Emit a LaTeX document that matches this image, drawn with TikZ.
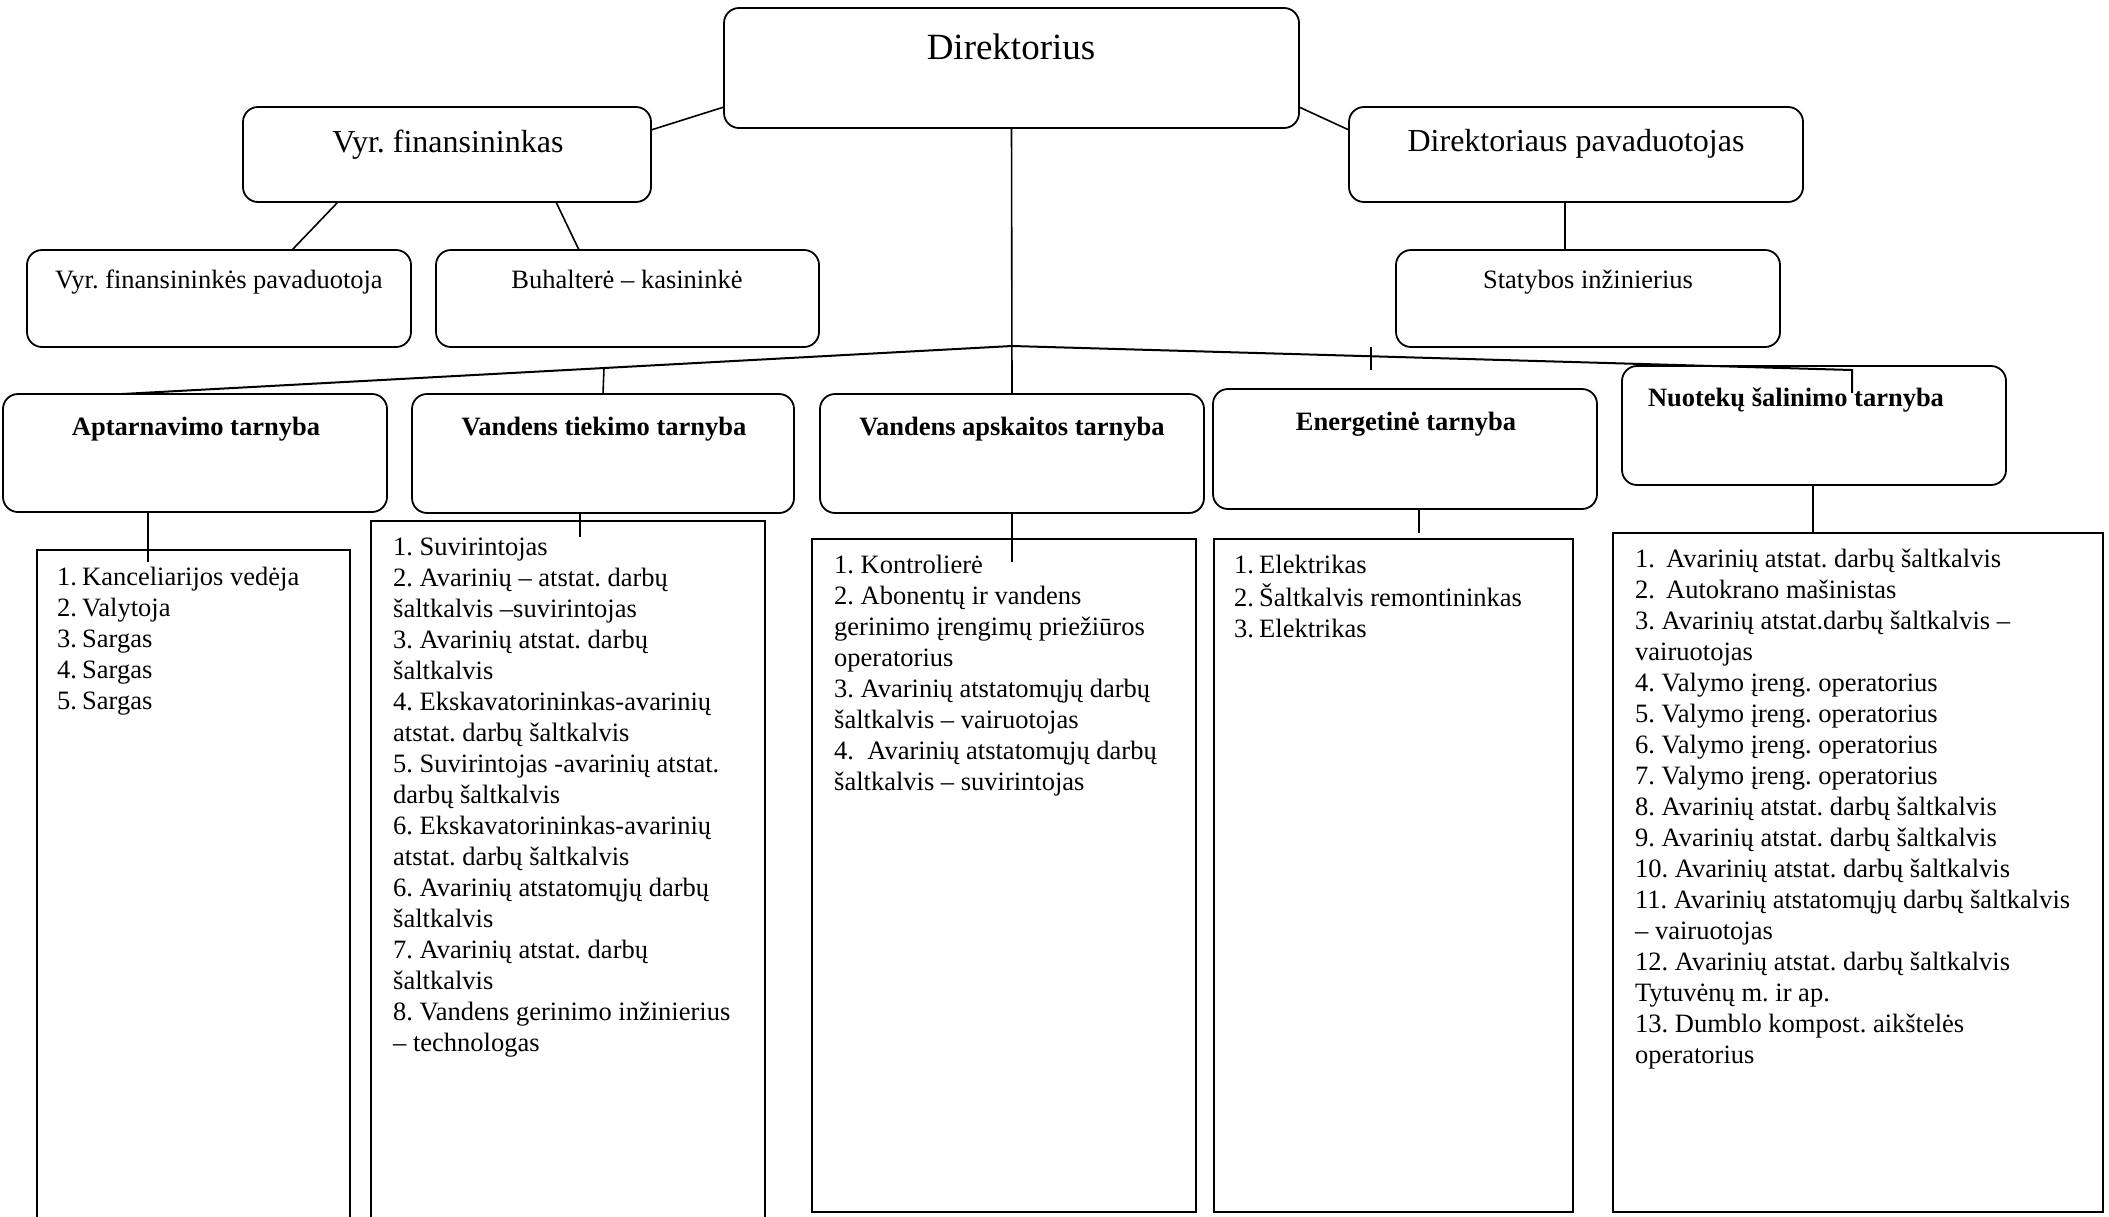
\documentclass[tikz,border=0pt]{standalone}
\usepackage{fontspec}
\setmainfont{Liberation Serif}
\newcommand\nb[1]{\makebox[25pt][l]{#1}}
\begin{document}
\frenchspacing
\begin{tikzpicture}[x=1pt,y=-1pt,
  rbox/.style={draw, rounded corners=15pt, line width=1.8pt, inner sep=0pt, outer sep=0pt, anchor=north west},
  lbox/.style={draw, line width=1.6pt, inner sep=0pt, outer sep=0pt, anchor=north west},
  conn/.style={line width=1.6pt},
  bigt/.style={font=\fontsize{37}{44}\selectfont, anchor=base, inner sep=0pt},
  midt/.style={font=\fontsize{32}{38}\selectfont, anchor=base, inner sep=0pt},
  smt/.style={font=\fontsize{26.5}{31}\selectfont, anchor=base, inner sep=0pt},
  bt/.style={font=\fontsize{26.5}{31}\selectfont\bfseries, anchor=base, inner sep=0pt},
  lst/.style={font=\fontsize{26.5}{31}\selectfont\frenchspacing, anchor=north west, align=left, inner sep=0pt}
]
\useasboundingbox (0,0) rectangle (2109,1216);
\clip (0,0) rectangle (2109,1216);

% boxes
\node[rbox, minimum width=575pt, minimum height=120pt] (dir) at (724,8) {};
\node[rbox, minimum width=408pt, minimum height=95pt] (fin) at (243,107) {};
\node[rbox, minimum width=454pt, minimum height=95pt] (pav) at (1349,107) {};
\node[rbox, minimum width=384pt, minimum height=97pt] (vfp) at (27,250) {};
\node[rbox, minimum width=383pt, minimum height=97pt] (buh) at (436,250) {};
\node[rbox, minimum width=384pt, minimum height=97pt] (stat) at (1396,250) {};
\node[rbox, minimum width=384pt, minimum height=118pt] (apt) at (3,394) {};
\node[rbox, minimum width=382pt, minimum height=119pt] (vt) at (412,394) {};
\node[rbox, minimum width=384pt, minimum height=119pt] (vap) at (820,394) {};
\node[rbox, minimum width=384pt, minimum height=120pt] (ene) at (1213,389) {};
\node[rbox, minimum width=384pt, minimum height=119pt] (nuo) at (1622,366) {};

% list boxes
\node[lbox, minimum width=313pt, minimum height=700pt] (l1) at (37,550) {};
\node[lbox, minimum width=394pt, minimum height=730pt] (l2) at (371,521) {};
\node[lbox, minimum width=384pt, minimum height=673pt] (l3) at (812,539) {};
\node[lbox, minimum width=359pt, minimum height=673pt] (l4) at (1214,539) {};
\node[lbox, minimum width=490pt, minimum height=679pt] (l5) at (1613,533) {};

% titles
\node[bigt] (tdir) at (1011,59) {Direktorius};
\node[midt] (tfin) at (448,152) {\frenchspacing Vyr. finansininkas};
\node[midt] (tpav) at (1576,151) {Direktoriaus pavaduotojas};
\node[smt] (tvfp) at (219,288) {\frenchspacing Vyr. finansininkės pavaduotoja};
\node[smt] (tbuh) at (627,288) {Buhalterė – kasininkė};
\node[smt] (tstat) at (1588,288) {Statybos inžinierius};
\node[bt] (tapt) at (196,435) {Aptarnavimo tarnyba};
\node[bt] (tvt) at (604,435) {Vandens tiekimo tarnyba};
\node[bt] (tvap) at (1012,435) {Vandens apskaitos tarnyba};
\node[bt] (tene) at (1406,430) {Energetinė tarnyba};
\node[bt] (tnuo) at (1796,406) {Nuotekų šalinimo tarnyba};

% lists
\node[lst] (x1) at (57,564) {\strut\nb{1.}Kanceliarijos vedėja\\\strut\nb{2.}Valytoja\\\strut\nb{3.}Sargas\\\strut\nb{4.}Sargas\\\strut\nb{5.}Sargas};
\node[lst] (x2) at (393,534) {\strut 1. Suvirintojas\\\strut 2. Avarinių – atstat. darbų\\\strut šaltkalvis –suvirintojas\\\strut 3. Avarinių atstat. darbų\\\strut šaltkalvis\\\strut 4. Ekskavatorininkas-avarinių\\\strut atstat. darbų šaltkalvis\\\strut 5. Suvirintojas -avarinių atstat.\\\strut darbų šaltkalvis\\\strut 6. Ekskavatorininkas-avarinių\\\strut atstat. darbų šaltkalvis\\\strut 6. Avarinių atstatomųjų darbų\\\strut šaltkalvis\\\strut 7. Avarinių atstat. darbų\\\strut šaltkalvis\\\strut 8. Vandens gerinimo inžinierius\\\strut – technologas};
\node[lst] (x3) at (834,552) {\strut 1. Kontrolierė\\\strut 2. Abonentų ir vandens\\\strut gerinimo įrengimų priežiūros\\\strut operatorius\\\strut 3. Avarinių atstatomųjų darbų\\\strut šaltkalvis – vairuotojas\\\strut 4.\ \ Avarinių atstatomųjų darbų\\\strut šaltkalvis – suvirintojas};
\node[lst] (x4) at (1234,552) {\strut\nb{1.}Elektrikas\\\strut\nb{2.}Šaltkalvis remontininkas\\\strut\nb{3.}Elektrikas};
\node[lst] (x5) at (1635,546) {\strut 1.\ \,Avarinių atstat. darbų šaltkalvis\\\strut 2.\ \,Autokrano mašinistas\\\strut 3. Avarinių atstat.darbų šaltkalvis –\\\strut vairuotojas\\\strut 4. Valymo įreng. operatorius\\\strut 5. Valymo įreng. operatorius\\\strut 6. Valymo įreng. operatorius\\\strut 7. Valymo įreng. operatorius\\\strut 8. Avarinių atstat. darbų šaltkalvis\\\strut 9. Avarinių atstat. darbų šaltkalvis\\\strut 10. Avarinių atstat. darbų šaltkalvis\\\strut 11. Avarinių atstatomųjų darbų šaltkalvis\\\strut – vairuotojas\\\strut 12. Avarinių atstat. darbų šaltkalvis\\\strut Tytuvėnų m. ir ap.\\\strut 13. Dumblo kompost. aikštelės\\\strut operatorius};

% connector coordinates
\coordinate (bus) at (1012,346);
\coordinate (busR) at (1852,370);
\coordinate (busEnd) at (1852,393);
\coordinate (vtbus) at (604,368);
\coordinate (tickT) at (1371,347);
\coordinate (tickB) at (1371,370);

% connectors
\draw[conn] ([yshift=-39pt]dir.west) -- ([yshift=24.5pt]fin.east);
\draw[conn] ([yshift=-39pt]dir.east) -- ([yshift=24.5pt]pav.west);
\draw[conn] (dir.south) -- (vap.north);
\draw[conn] ([xshift=-109pt]fin.south) -- ([xshift=73pt]vfp.north);
\draw[conn] ([xshift=109pt]fin.south) -- ([xshift=-48.5pt]buh.north);
\draw[conn] ([xshift=-11pt]pav.south) -- ([xshift=-23pt]stat.north);
\draw[line width=2pt] ([xshift=-73pt]apt.north) -- (bus) -- (busR) -- (busEnd);
\draw[conn] (vtbus) -- (vt.north);
\draw[conn] (tickT) -- (tickB);
\draw[conn] ([xshift=-47pt]apt.south) -- ([xshift=-45.5pt,yshift=-12pt]l1.north);
\draw[conn] ([xshift=-23pt]vt.south) -- ([xshift=12pt,yshift=-16pt]l2.north);
\draw[conn] (vap.south) -- ([xshift=8pt,yshift=-23pt]l3.north);
\draw[conn] ([xshift=14pt]ene.south) -- ([xshift=25.5pt,yshift=6pt]l4.north);
\draw[conn] ([xshift=-1pt]nuo.south) -- ([xshift=-45pt]l5.north);
\end{tikzpicture}
\end{document}
